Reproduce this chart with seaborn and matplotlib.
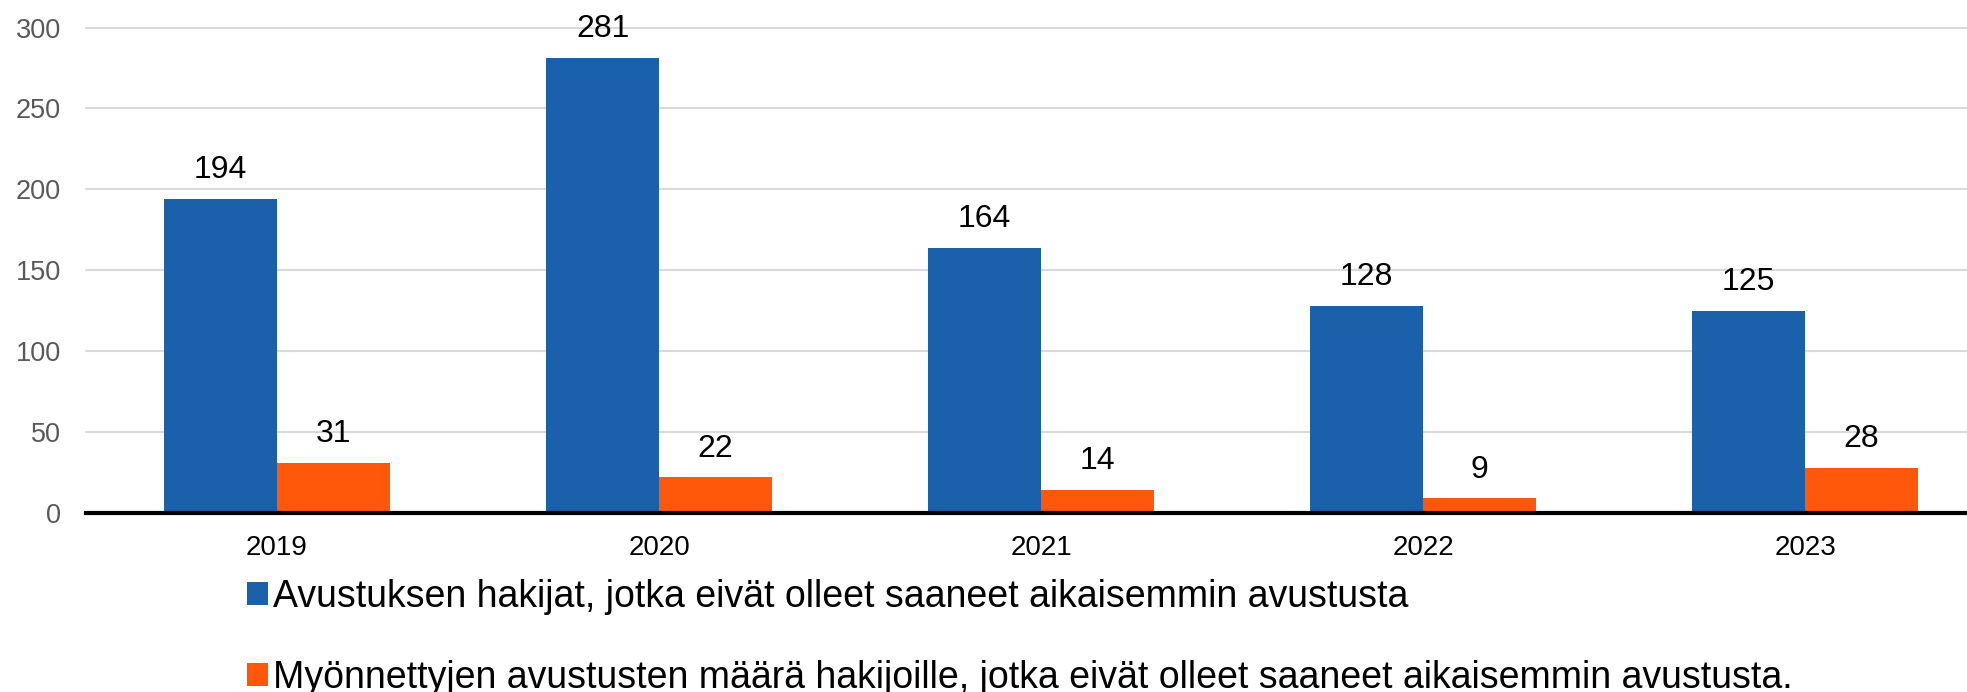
import numpy as np
import pandas as pd
import matplotlib
matplotlib.use("Agg")
import matplotlib.pyplot as plt
import seaborn as sns

years = ["2019", "2020", "2021", "2022", "2023"]
hakijat = [194, 281, 164, 128, 125]
myonnetyt = [31, 22, 14, 9, 28]
series_names = [
    "Avustuksen hakijat, jotka eivät olleet saaneet aikaisemmin avustusta",
    "Myönnettyjen avustusten määrä hakijoille, jotka eivät olleet saaneet aikaisemmin avustusta.",
]
y_ticks = [0, 50, 100, 150, 200, 250, 300]

df = pd.DataFrame({
    "vuosi": years * 2,
    "arvo": hakijat + myonnetyt,
    "sarja": [series_names[0]] * len(years) + [series_names[1]] * len(years),
})

sns.set_theme(style="white")
plt.rcParams["font.family"] = ["Liberation Sans", "DejaVu Sans"]

fig = plt.figure(figsize=(19.67, 6.92), dpi=100)
ax = fig.add_axes([86 / 1967, 1 - 513 / 692, 1910 / 1967, (513 - 27.5) / 692])

sns.barplot(data=df, x="vuosi", y="arvo", hue="sarja",
            palette=["#1A60AB", "#FF580A"], width=0.59,
            errorbar=None, saturation=1, linewidth=0, ax=ax)

for cont in ax.containers:
    ax.bar_label(cont, padding=10, fontsize=23, color="black")

ax.set_xlim(-0.5, 4.5)
ax.set_ylim(0, 300)
ax.set_yticks(y_ticks)
ax.yaxis.grid(True, color="#d9d9d9", linewidth=1.5)
ax.set_axisbelow(True)
for g in ax.get_ygridlines():
    g.set_clip_on(False)
for s in ["top", "right", "left"]:
    ax.spines[s].set_visible(False)
ax.spines["bottom"].set_color("black")
ax.spines["bottom"].set_linewidth(3)
ax.tick_params(axis="y", length=0, pad=18, labelsize=19.5, labelcolor="#595959")
ax.tick_params(axis="x", length=0, pad=16, labelsize=20, labelcolor="black")
ax.set_xlabel("")
ax.set_ylabel("")

handles, labels = ax.get_legend_handles_labels()
ax.get_legend().remove()
fig.legend(handles, labels, loc="upper left",
           bbox_to_anchor=(247 / 1967, 1 - 579 / 692),
           frameon=False, fontsize=27, ncol=1, labelcolor="black",
           handlelength=0.55, handleheight=0.55, handletextpad=0.15,
           labelspacing=1.2, borderpad=0, borderaxespad=0)

fig.savefig("out.png", dpi=100)
